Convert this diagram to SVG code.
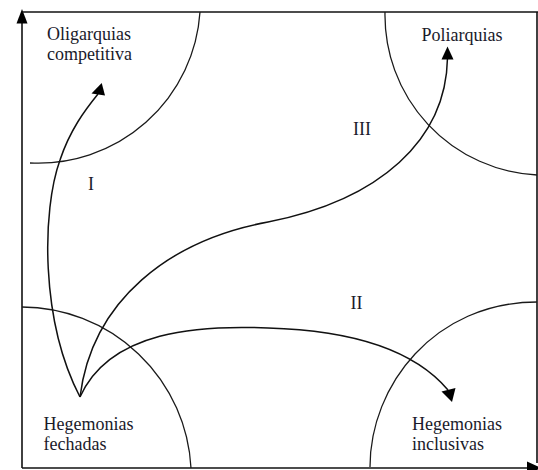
<svg xmlns="http://www.w3.org/2000/svg" width="538" height="470" viewBox="0 0 538 470">
<style>
.ax{fill:none;stroke:#111;stroke-width:1.6}
.arc{fill:none;stroke:#1a1a1a;stroke-width:1.3}
.con{fill:none;stroke:#111;stroke-width:1.5}
.head{fill:#000;stroke:none}
.lbl{font-family:"Liberation Serif","Times New Roman",serif;font-size:18px;fill:#1a1a2a}
</style>
<rect width="538" height="470" fill="#fff"/>
<g id="axes">
<line class="ax" x1="22" y1="468" x2="22" y2="20"/>
<polygon class="head" points="22,9 16.5,23.5 27.5,23.5"/>
<line class="ax" x1="22" y1="468" x2="530" y2="468"/>
<polygon class="head" points="541,468 527,461.5 527,474.5"/>
<line class="ax" x1="22" y1="12" x2="538" y2="12"/>
<line class="ax" x1="537" y1="12" x2="537" y2="463"/>
</g>
<g id="regions">
<path class="arc" d="M200,12 A162,162 0 0 1 30,163"/>
<path class="arc" d="M385,12 A160,160 0 0 0 537,175"/>
<path class="arc" d="M22,307 A170,170 0 0 1 191,468"/>
<path class="arc" d="M370,467 C370,385 435,302 537,302"/>
</g>
<g id="connectors">
<path class="con" d="M80,397 C40,320 42,210 60,160 C70,130 85,110 98,94"/>
<polygon class="head" points="101.7,83 91.5,93.5 105,95.5"/>
<path class="con" d="M80,397 C92,300 170,240 268,222 C380,200 446,140 447.5,58"/>
<polygon class="head" points="447.5,46.5 441.5,59.5 453.5,59.5"/>
<path class="con" d="M80,397 C110,330 200,325 268,328 C340,330 410,345 448,390"/>
<polygon class="head" points="452,402 441.5,391.5 455.5,388"/>
</g>
<g id="node-oligarquias">
<text class="lbl" x="47" y="40">Oligarquias</text>
<text class="lbl" x="47" y="60">competitiva</text>
</g>
<g id="node-poliarquias">
<text class="lbl" x="421.5" y="41">Poliarquias</text>
</g>
<g id="node-hegemonias-fechadas">
<text class="lbl" x="43.5" y="430">Hegemonias</text>
<text class="lbl" x="43.5" y="450">fechadas</text>
</g>
<g id="node-hegemonias-inclusivas">
<text class="lbl" x="412" y="430">Hegemonias</text>
<text class="lbl" x="412" y="450">inclusivas</text>
</g>
<g id="region-labels">
<text class="lbl" x="88" y="190">I</text>
<text class="lbl" x="353" y="135">III</text>
<text class="lbl" x="350.5" y="309">II</text>
</g>
</svg>
